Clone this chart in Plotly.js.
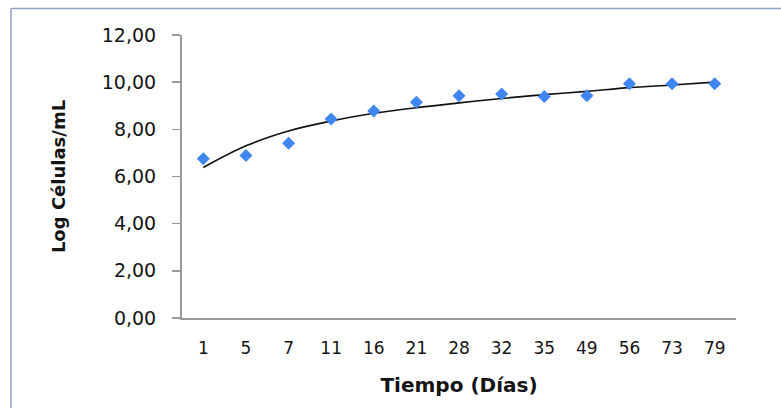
<!DOCTYPE html>
<html>
<head>
<meta charset="utf-8">
<script src="https://cdn.plot.ly/plotly-3.0.1.min.js"></script>
<style>
  html, body { margin: 0; padding: 0; background: #fff; }
  #chart { width: 781px; height: 408px; }
</style>
</head>
<body>
<div id="chart"></div>
<script>
// Categories (days)
const days = ['1', '5', '7', '11', '16', '21', '28', '32', '35', '49', '56', '73', '79'];
// Measured Log cells/mL
const logCells = [6.75, 6.89, 7.41, 8.44, 8.78, 9.15, 9.42, 9.50, 9.39, 9.42, 9.93, 9.93, 9.93];
// Trend line at each category
const trend = [6.38, 7.30, 7.93, 8.35, 8.68, 8.92, 9.12, 9.31, 9.47, 9.61, 9.77, 9.88, 10.0];
// Y tick values
const yTicks = [0, 2, 4, 6, 8, 10, 12];

const txt = '#141414';
const fam = 'DejaVu Sans, Arial, sans-serif';

const traces = [
  {
    x: days, y: trend, type: 'scatter', mode: 'lines',
    line: { color: '#111111', width: 1.6, shape: 'spline', smoothing: 1 },
    hoverinfo: 'skip', showlegend: false
  },
  {
    x: days, y: logCells, type: 'scatter', mode: 'markers',
    marker: { symbol: 'diamond', size: 10, color: '#3f86f2', line: { width: 0 } },
    showlegend: false
  }
];

const layout = {
  width: 781, height: 408,
  margin: { l: 182, r: 45, t: 35, b: 90 },
  paper_bgcolor: '#ffffff', plot_bgcolor: '#ffffff',
  separators: ',.',
  showlegend: false,
  xaxis: {
    type: 'category',
    categoryorder: 'array', categoryarray: days,
    range: [-0.5, 12.5],
    showline: true, linecolor: '#9a9a9a', linewidth: 2,
    showgrid: false, zeroline: false,
    ticks: '',
    ticklabelstandoff: 14,
    tickfont: { family: fam, size: 17, color: txt },
    title: { text: 'Tiempo (Días)', standoff: 21,
             font: { family: fam, size: 20, color: txt, weight: 'bold' } },
    automargin: false
  },
  yaxis: {
    range: [0, 12],
    tickvals: yTicks,
    tickformat: '.2f',
    showline: true, linecolor: '#9a9a9a', linewidth: 2,
    showgrid: false, zeroline: false,
    ticks: 'outside', ticklen: 8, tickcolor: '#9a9a9a', tickwidth: 1.5,
    ticklabelstandoff: 12,
    tickfont: { family: fam, size: 19, color: txt },
    title: { text: 'Log Células/mL', standoff: 31,
             font: { family: fam, size: 18, color: txt, weight: 'bold' } },
    automargin: false
  },
  shapes: [
    { type: 'line', xref: 'paper', yref: 'paper',
      x0: (11 - 182) / 554, x1: 1.2, y0: (318 - 8.5) / 283, y1: (318 - 8.5) / 283,
      line: { color: '#8fa2c4', width: 1.5 } },
    { type: 'line', xref: 'paper', yref: 'paper',
      x0: (11 - 182) / 554, x1: (11 - 182) / 554, y0: (318 - 8.5) / 283, y1: -0.5,
      line: { color: '#8fa2c4', width: 1.5 } }
  ]
};

Plotly.newPlot('chart', traces, layout, { displayModeBar: false, staticPlot: true });
</script>
</body>
</html>
